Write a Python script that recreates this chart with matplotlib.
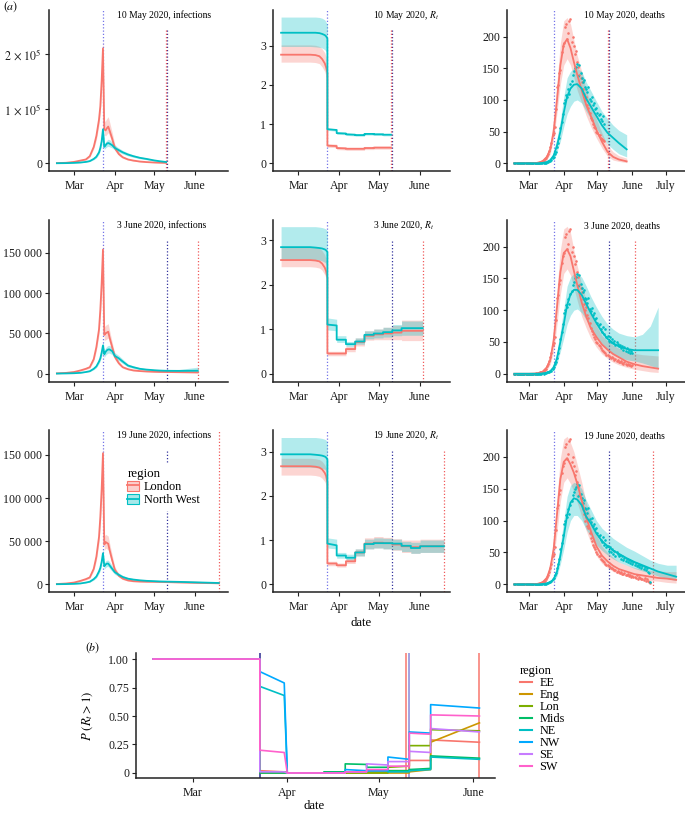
import numpy as np
import matplotlib
matplotlib.use('Agg')
import matplotlib.pyplot as plt
import matplotlib.dates as mdates
from matplotlib.patches import Patch
from matplotlib.lines import Line2D
from matplotlib.colors import to_rgba

plt.rcParams['font.family'] = ['Liberation Serif', 'DejaVu Serif']
plt.rcParams['mathtext.fontset'] = 'stix'


def D(*s):
    return np.array(['2020-' + x for x in s], dtype='datetime64[D]')


# ---------------------------------------------------------------- data
REGIONS = ['London', 'North West']
ROW_DATES = ['10 May 2020', '3 June 2020', '19 June 2020']
ANALYSIS_DATES = D('05-10', '06-03', '06-19')
LOCKDOWN = D('03-23')[0]
SECOND_LINE = D('05-11')[0]

# infections (knots)
INF_DATES = D('02-17', '02-24', '03-01', '03-06', '03-10', '03-13', '03-16', '03-18', '03-20', '03-21',
              '03-22', '03-23', '03-24', '03-25', '03-26', '03-27', '03-28', '03-30', '04-01', '04-04',
              '04-07', '04-11', '04-15', '04-20', '04-25', '05-01', '05-05', '05-10', '05-20', '06-03', '06-19')

INF1_LON = [300, 900, 2500, 5000, 7000, 13000, 30000, 50000, 80000, 104000, 150000, 210000, 62000, 60000, 64000, 67000, 60000, 45000, 28000, 17000, 11000, 7000, 5000, 3200, 2200, 1400, 1000, 700]
INF1_LON_LO = [250, 750, 2100, 4200, 5900, 11000, 26000, 43000, 70000, 92000, 133000, 192000, 52000, 50000, 53000, 56000, 50000, 37000, 23000, 14000, 9000, 5700, 4000, 2500, 1700, 1100, 750, 500]
INF1_LON_HI = [360, 1100, 3000, 6000, 8300, 15500, 35000, 58000, 92000, 118000, 168000, 225000, 76000, 78000, 82000, 85000, 76000, 56000, 35000, 21000, 13500, 8600, 6200, 4000, 2800, 1800, 1300, 950]
INF1_NW = [100, 300, 700, 1400, 2500, 4000, 8000, 12000, 20000, 28000, 40000, 62000, 30000, 33000, 36000, 37000, 36000, 33000, 28000, 24000, 20000, 16000, 13000, 10000, 8000, 5200, 3800, 2300]
INF1_NW_LO = [80, 240, 560, 1100, 2000, 3200, 6500, 9800, 16500, 23500, 34000, 55000, 25000, 28000, 30000, 31000, 30000, 28000, 24000, 20500, 17000, 13500, 11000, 8300, 6500, 4200, 3000, 1800]
INF1_NW_HI = [125, 370, 860, 1700, 3100, 4900, 9800, 14500, 24000, 33000, 46000, 69000, 36000, 39000, 42000, 44000, 43000, 39000, 33000, 28000, 23500, 19000, 15500, 12000, 9800, 6500, 4800, 3000]

INF2_LON = [300, 900, 2000, 4000, 6000, 8000, 18000, 33000, 55000, 79000, 112000, 154000, 48000, 50000, 51000, 52000, 45000, 33000, 21000, 13000, 8000, 5500, 4000, 3200, 2700, 2300, 2100, 2000, 1800, 1500]
INF2_LON_LO = [250, 750, 1700, 3400, 5100, 6800, 15500, 28500, 48000, 69000, 99000, 140000, 41000, 42000, 43000, 44000, 38000, 28000, 17500, 10800, 6600, 4500, 3300, 2600, 2200, 1800, 1600, 1500, 1200, 800]
INF2_LON_HI = [360, 1100, 2400, 4700, 7000, 9400, 21000, 38000, 62000, 89000, 125000, 162000, 58000, 60000, 61000, 62000, 54000, 39000, 25000, 15500, 9600, 6600, 4900, 3900, 3300, 2900, 2700, 2600, 2500, 2500]
INF2_NW = [100, 250, 500, 1000, 2000, 3000, 6000, 9000, 15000, 19000, 26000, 35000, 24000, 27000, 29000, 30000, 30000, 28000, 22000, 19000, 15000, 10000, 8000, 6000, 5000, 4200, 3800, 3500, 3400, 3600]
INF2_NW_LO = [80, 200, 400, 800, 1600, 2400, 4900, 7400, 12500, 16000, 22000, 30000, 20000, 23000, 24500, 25500, 25500, 23500, 18500, 16000, 12500, 8300, 6600, 4900, 4000, 3300, 2900, 2500, 2200, 1200]
INF2_NW_HI = [125, 310, 620, 1250, 2500, 3700, 7300, 10900, 18000, 22500, 30500, 40000, 28500, 32000, 34000, 35000, 35000, 33000, 26000, 22500, 18000, 12000, 9700, 7300, 6100, 5200, 4800, 4700, 5200, 8000]

INF3_LON = [300, 900, 2000, 4000, 6000, 8000, 18000, 32000, 55000, 78000, 110000, 152000, 46000, 49000, 48000, 47000, 40000, 28000, 17000, 10000, 6600, 4500, 3600, 3200, 3000, 2900, 2800, 2600, 2200, 1700, 1200]
INF3_LON_LO = [250, 750, 1700, 3400, 5100, 6800, 15500, 27500, 48000, 68000, 97000, 138000, 39000, 42000, 41000, 40000, 34000, 23500, 14000, 8300, 5400, 3700, 2900, 2600, 2400, 2300, 2200, 2000, 1600, 1100, 600]
INF3_LON_HI = [360, 1100, 2400, 4700, 7000, 9400, 21000, 37000, 62000, 88000, 123000, 160000, 56000, 58000, 57000, 56000, 48000, 34000, 20500, 12000, 8000, 5500, 4400, 3900, 3700, 3600, 3500, 3300, 2900, 2500, 2000]
INF3_NW = [100, 250, 500, 1000, 2000, 3000, 6000, 9000, 15000, 19000, 26000, 36000, 21000, 23000, 24000, 24000, 22000, 18000, 14000, 11000, 8500, 6500, 5500, 4600, 4000, 3600, 3300, 3100, 2800, 2200, 1500]
INF3_NW_LO = [80, 200, 400, 800, 1600, 2400, 4900, 7400, 12500, 16000, 22000, 31000, 17500, 19500, 20500, 20500, 18500, 15000, 11500, 9000, 7000, 5300, 4500, 3700, 3200, 2900, 2600, 2400, 2100, 1600, 900]
INF3_NW_HI = [125, 310, 620, 1250, 2500, 3700, 7300, 10900, 18000, 22500, 30500, 41000, 25000, 27000, 28000, 28000, 26000, 21500, 16800, 13200, 10200, 7800, 6600, 5500, 4800, 4400, 4000, 3800, 3500, 2900, 2200]

# R_t (knots, repeated dates mark steps)
RT1_DATES = D('02-17', '03-10', '03-14', '03-17', '03-19', '03-21', '03-22', '03-23', '03-23', '03-30', '03-30',
              '04-06', '04-06', '04-13', '04-13', '04-20', '04-20', '04-27', '04-27', '05-04', '05-04', '05-10')
RT1_LON = [2.77, 2.77, 2.76, 2.73, 2.66, 2.55, 2.45, 2.3, 0.45, 0.44, 0.39, 0.38, 0.37, 0.37, 0.37, 0.37, 0.39, 0.39, 0.40, 0.40, 0.40, 0.40]
RT1_LON_LO = [2.58, 2.58, 2.57, 2.54, 2.46, 2.34, 2.22, 2.05, 0.41, 0.40, 0.35, 0.34, 0.33, 0.33, 0.33, 0.33, 0.35, 0.35, 0.36, 0.36, 0.36, 0.36]
RT1_LON_HI = [3.02, 3.02, 3.01, 2.98, 2.92, 2.82, 2.72, 2.6, 0.50, 0.49, 0.43, 0.42, 0.41, 0.41, 0.41, 0.41, 0.43, 0.43, 0.44, 0.44, 0.44, 0.44]
RT1_NW = [3.33, 3.33, 3.33, 3.32, 3.30, 3.27, 3.24, 3.18, 0.87, 0.85, 0.77, 0.76, 0.74, 0.73, 0.72, 0.72, 0.75, 0.75, 0.74, 0.74, 0.73, 0.73]
RT1_NW_LO = [2.98, 2.98, 2.97, 2.96, 2.94, 2.9, 2.85, 2.75, 0.84, 0.82, 0.74, 0.73, 0.71, 0.70, 0.69, 0.69, 0.72, 0.72, 0.71, 0.71, 0.70, 0.70]
RT1_NW_HI = [3.73, 3.73, 3.73, 3.72, 3.70, 3.66, 3.6, 3.55, 0.90, 0.88, 0.80, 0.79, 0.77, 0.76, 0.75, 0.75, 0.78, 0.78, 0.77, 0.77, 0.76, 0.76]

RT2_DATES = D('02-17', '03-10', '03-14', '03-17', '03-19', '03-21', '03-22', '03-23', '03-23', '03-30', '03-30',
              '04-06', '04-06', '04-13', '04-13', '04-20', '04-20', '04-27', '04-27', '05-04', '05-04',
              '05-11', '05-11', '05-18', '05-18', '06-03')
RT2_LON = [2.55, 2.55, 2.54, 2.52, 2.47, 2.38, 2.3, 2.15, 0.45, 0.45, 0.45, 0.45, 0.55, 0.55, 0.71, 0.71, 0.85, 0.85, 0.88, 0.88, 0.90, 0.90, 0.92, 0.92, 0.96, 0.96]
RT2_LON_LO = [2.40, 2.40, 2.39, 2.37, 2.32, 2.22, 2.14, 2.0, 0.40, 0.40, 0.40, 0.40, 0.49, 0.49, 0.62, 0.62, 0.75, 0.75, 0.76, 0.76, 0.76, 0.76, 0.76, 0.76, 0.74, 0.74]
RT2_LON_HI = [2.85, 2.85, 2.84, 2.82, 2.76, 2.67, 2.58, 2.4, 0.50, 0.50, 0.50, 0.50, 0.61, 0.61, 0.80, 0.80, 0.96, 0.96, 1.0, 1.0, 1.04, 1.04, 1.08, 1.08, 1.2, 1.2]
RT2_NW = [2.84, 2.84, 2.83, 2.82, 2.81, 2.79, 2.77, 2.73, 1.10, 1.08, 0.76, 0.76, 0.66, 0.66, 0.72, 0.72, 0.87, 0.87, 0.90, 0.90, 0.93, 0.93, 0.97, 0.97, 1.02, 1.02]
RT2_NW_LO = [2.57, 2.57, 2.56, 2.55, 2.53, 2.5, 2.47, 2.4, 0.98, 0.96, 0.70, 0.70, 0.61, 0.61, 0.66, 0.66, 0.78, 0.78, 0.80, 0.80, 0.82, 0.82, 0.85, 0.85, 0.86, 0.86]
RT2_NW_HI = [3.30, 3.30, 3.30, 3.29, 3.28, 3.26, 3.24, 3.2, 1.25, 1.22, 0.85, 0.85, 0.72, 0.72, 0.80, 0.80, 0.96, 0.96, 1.0, 1.0, 1.04, 1.04, 1.1, 1.1, 1.18, 1.18]

RT3_DATES = D('02-17', '03-10', '03-14', '03-17', '03-19', '03-21', '03-22', '03-23', '03-23', '03-30', '03-30',
              '04-06', '04-06', '04-13', '04-13', '04-20', '04-20', '04-27', '04-27', '05-04', '05-04',
              '05-11', '05-11', '05-18', '05-18', '05-25', '05-25', '06-01', '06-01', '06-19')
RT3_LON = [2.67, 2.67, 2.66, 2.64, 2.6, 2.52, 2.45, 2.3, 0.47, 0.47, 0.43, 0.43, 0.52, 0.52, 0.72, 0.72, 0.92, 0.92, 0.94, 0.94, 0.93, 0.93, 0.90, 0.90, 0.86, 0.86, 0.84, 0.84, 0.86, 0.86]
RT3_LON_LO = [2.47, 2.47, 2.46, 2.44, 2.4, 2.32, 2.25, 2.1, 0.42, 0.42, 0.39, 0.39, 0.47, 0.47, 0.64, 0.64, 0.80, 0.80, 0.82, 0.82, 0.80, 0.80, 0.77, 0.77, 0.72, 0.72, 0.70, 0.70, 0.72, 0.72]
RT3_LON_HI = [2.85, 2.85, 2.84, 2.82, 2.78, 2.7, 2.64, 2.5, 0.52, 0.52, 0.48, 0.48, 0.58, 0.58, 0.80, 0.80, 1.05, 1.05, 1.08, 1.08, 1.06, 1.06, 1.03, 1.03, 1.0, 1.0, 1.0, 1.0, 1.02, 1.02]
RT3_NW = [2.94, 2.94, 2.93, 2.92, 2.91, 2.89, 2.87, 2.82, 0.92, 0.88, 0.65, 0.65, 0.60, 0.60, 0.72, 0.72, 0.91, 0.91, 0.93, 0.93, 0.93, 0.93, 0.92, 0.92, 0.87, 0.87, 0.82, 0.82, 0.86, 0.86]
RT3_NW_LO = [2.65, 2.65, 2.64, 2.63, 2.62, 2.6, 2.57, 2.5, 0.82, 0.80, 0.59, 0.59, 0.55, 0.55, 0.64, 0.64, 0.80, 0.80, 0.82, 0.82, 0.80, 0.80, 0.78, 0.78, 0.74, 0.74, 0.70, 0.70, 0.72, 0.72]
RT3_NW_HI = [3.32, 3.32, 3.32, 3.31, 3.30, 3.28, 3.26, 3.2, 1.05, 1.02, 0.72, 0.72, 0.68, 0.68, 0.80, 0.80, 1.02, 1.02, 1.05, 1.05, 1.04, 1.04, 1.02, 1.02, 0.97, 0.97, 0.95, 0.95, 1.0, 1.0]

# deaths, fitted (knots)
DTH_DATES = D('02-17', '03-01', '03-08', '03-13', '03-17', '03-20', '03-23', '03-26', '03-29', '04-01',
              '04-04', '04-07', '04-10', '04-13', '04-17', '04-21', '04-25', '04-30', '05-05', '05-10',
              '05-15', '05-20', '05-27', '06-03', '06-10', '06-17', '06-24', '07-02', '07-10')
DTH1_LON = [0, 0, 0.5, 3, 10, 22, 50, 100, 155, 188, 196, 182, 160, 140, 115, 92, 75, 53, 34, 18, 10, 6, 3]
DTH1_LON_LO = [0, 0, 0, 1.5, 6, 15, 38, 80, 125, 155, 165, 155, 135, 115, 95, 75, 58, 40, 24, 11, 5, 3, 1]
DTH1_LON_HI = [0.5, 0.5, 1, 5, 15, 32, 70, 130, 190, 225, 230, 220, 195, 170, 145, 115, 95, 70, 48, 28, 18, 12, 8]
DTH1_NW = [0, 0, 0, 0.5, 2, 5, 12, 28, 50, 80, 105, 118, 124, 125, 118, 102, 90, 75, 60, 48, 40, 32, 22]
DTH1_NW_LO = [0, 0, 0, 0, 1, 3, 8, 18, 35, 58, 78, 90, 98, 100, 95, 82, 70, 55, 42, 30, 22, 15, 10]
DTH1_NW_HI = [0, 0, 0.5, 1, 3, 8, 18, 40, 68, 105, 135, 145, 150, 150, 145, 128, 115, 98, 82, 70, 60, 52, 45]

DTH2_LON = [0, 0, 0.5, 3, 10, 22, 52, 105, 160, 190, 196, 185, 162, 140, 112, 90, 72, 58, 46, 38, 31, 26, 19, 15, 12, 10, 8]
DTH2_LON_LO = [0, 0, 0, 1.5, 6, 15, 35, 78, 125, 158, 165, 155, 135, 115, 90, 72, 56, 42, 31, 24, 18, 14, 10, 7, 5, 3, 2]
DTH2_LON_HI = [0.5, 0.5, 1, 5, 15, 32, 70, 135, 195, 228, 232, 222, 195, 170, 140, 115, 95, 76, 60, 52, 45, 40, 36, 32, 30, 29, 28]
DTH2_NW = [0, 0, 0, 0.5, 1.5, 4, 10, 24, 50, 78, 108, 125, 132, 132, 124, 110, 96, 80, 66, 55, 48, 43, 39, 37, 37, 37, 37]
DTH2_NW_LO = [0, 0, 0, 0, 1, 2, 6, 16, 35, 56, 78, 92, 100, 102, 96, 85, 72, 58, 46, 36, 30, 26, 22, 20, 17, 13, 9]
DTH2_NW_HI = [0, 0, 0.5, 1, 3, 7, 16, 36, 68, 102, 138, 152, 158, 158, 152, 138, 122, 105, 90, 78, 70, 64, 60, 58, 62, 75, 105]

DTH3_LON = [0, 0, 0.5, 3, 10, 25, 55, 110, 165, 192, 198, 188, 175, 158, 132, 105, 84, 60, 45, 36, 29, 24, 20, 16, 14, 12, 10, 9, 7]
DTH3_LON_LO = [0, 0, 0, 1.5, 6, 17, 38, 82, 130, 160, 167, 158, 145, 128, 106, 84, 65, 45, 33, 26, 20, 16, 13, 10, 8, 6, 5, 3, 2]
DTH3_LON_HI = [0.5, 0.5, 1, 5, 16, 35, 72, 138, 198, 228, 232, 222, 208, 188, 160, 128, 105, 78, 60, 50, 42, 35, 30, 26, 24, 22, 21, 20, 20]
DTH3_NW = [0, 0, 0, 0.5, 1.5, 3, 8, 20, 45, 75, 108, 128, 135, 133, 124, 106, 96, 80, 68, 60, 53, 48, 41, 35, 30, 25, 20, 16, 12]
DTH3_NW_LO = [0, 0, 0, 0, 1, 2, 5, 13, 32, 55, 82, 100, 108, 108, 100, 86, 75, 62, 53, 46, 40, 35, 30, 25, 21, 17, 13, 9, 6]
DTH3_NW_HI = [0, 0, 0.5, 1, 3, 6, 13, 30, 62, 100, 138, 155, 160, 158, 150, 132, 118, 100, 88, 80, 72, 66, 58, 52, 45, 38, 33, 30, 30]

# deaths, observed daily from 17 Feb
OBS_START = '2020-02-17'
OBS_LON = ([0] * 13 +
           [0, 0, 0, 0, 0, 0, 1, 0, 1, 1, 2, 2, 3, 4, 6, 8, 12, 15, 20, 26, 32, 45, 48, 58, 85, 120, 124, 142, 148, 175, 185] +
           [190, 215, 220, 196, 205, 225, 228, 192, 200, 185, 172, 178, 160, 152, 140, 135, 128, 118, 110, 100, 105, 92, 88, 80, 72, 68, 62, 58, 55, 50] +
           [48, 45, 44, 40, 38, 36, 35, 32, 30, 30, 28, 27, 25, 26, 24, 22, 23, 20, 21, 19, 18, 20, 17, 16, 18, 15, 14, 16, 13, 14, 12] +
           [13, 11, 12, 10, 14, 9, 11, 10, 8, 9, 7, 10, 6, 8, 5, 4, 2])
OBS_NW = ([0] * 13 +
          [0, 0, 0, 0, 0, 0, 0, 0, 0, 0, 0, 0, 1, 0, 1, 1, 2, 2, 3, 4, 5, 8, 10, 15, 18, 25, 32, 40, 55, 65, 78] +
          [95, 100, 108, 105, 118, 110, 125, 130, 140, 145, 150, 152, 157, 138, 155, 142, 135, 128, 132, 120, 118, 112, 120, 102, 98, 104, 92, 95, 86, 88] +
          [80, 76, 78, 70, 66, 74, 62, 70, 58, 60, 52, 58, 50, 55, 48, 52, 45, 50, 47, 44, 46, 40, 44, 38, 42, 36, 40, 35, 38, 33, 36] +
          [32, 35, 30, 33, 28, 31, 27, 30, 25, 28, 24, 27, 22, 25, 20, 18, 4])
OBS_END = D('05-07', '06-01', '06-17')

# panel (b): P(R_t > 1)
B_DATES = D('02-17', '03-23', '03-23', '03-31', '04-01', '04-13', '04-13', '04-20', '04-20', '04-27', '04-27',
            '05-04', '05-04', '05-11', '05-11', '05-18', '05-18', '06-03')
B_REGIONS = ['EE', 'Eng', 'Lon', 'Mids', 'NE', 'NW', 'SE', 'SW']
B_EE = [1, 1, 0.02, 0.01, 0, 0, 0, 0, 0.01, 0.01, 0.01, 0.01, 0.02, 0.02, 0.11, 0.11, 0.29, 0.27]
B_ENG = [1, 1, 0.0, 0.0, 0, 0, 0, 0, 0, 0, 0, 0, 0, 0, 0.01, 0.03, 0.27, 0.44]
B_LON = [1, 1, 0.01, 0.01, 0, 0, 0, 0, 0, 0, 0, 0, 0.05, 0.06, 0.24, 0.24, 0.38, 0.37]
B_MIDS = [1, 1, 0.0, 0.0, 0, 0, 0.01, 0.01, 0.08, 0.075, 0.05, 0.05, 0.02, 0.02, 0.03, 0.04, 0.15, 0.13]
B_NE = [1, 1, 0.76, 0.68, 0, 0, 0, 0, 0.01, 0.01, 0.02, 0.02, 0.01, 0.01, 0.02, 0.03, 0.14, 0.12]
B_NW = [1, 1, 0.89, 0.79, 0, 0, 0, 0, 0.03, 0.02, 0.02, 0.02, 0.14, 0.12, 0.36, 0.35, 0.60, 0.57]
B_SE = [1, 1, 0.01, 0.01, 0, 0, 0, 0, 0.01, 0.01, 0.08, 0.07, 0.10, 0.10, 0.19, 0.18, 0.39, 0.36]
B_SW = [1, 1, 0.20, 0.18, 0, 0, 0, 0, 0.01, 0.01, 0.03, 0.03, 0.06, 0.06, 0.35, 0.34, 0.51, 0.50]
B_VLINES = D('03-23', '05-10', '05-11', '06-03')

MONTH_TICKS = D('03-01', '04-01', '05-01', '06-01', '07-01')
MONTH_LABELS = ['Mar', 'Apr', 'May', 'June', 'July']

# ---------------------------------------------------------------- style
C_LON = '#F8766D'
C_NW = '#00BFC4'
B_COLORS = ['#F8766D', '#CD9600', '#7CAE00', '#00BE67', '#00BFC4', '#00A9FF', '#C77CFF', '#FF61CC']
C_LOCK = '#7474E8'
C_SECOND = '#34349E'
C_DATE = '#F05A5A'
SPINE = '#222222'
TICKFS = 8.6
TITLEFS = 6.9

W, H = 685, 814
fig = plt.figure(figsize=(W / 100, H / 100), dpi=100)


def add_ax(l, t, r, b):
    return fig.add_axes([l / W, 1 - b / H, (r - l) / W, (b - t) / H])


def dn(s, frac=0.0):
    return mdates.date2num(np.datetime64('2020-' + s)) + frac


COLS = [(49, 228), (273, 450), (507, 685)]
ROWS = [(10, 171), (220, 382), (430, 592)]
XLIMS = [(dn('02-11'), dn('06-26')), (dn('02-10', 0.9), dn('06-23', 0.6)), (dn('02-10', 0.5), dn('07-17', 0.9))]
YLIMS = [[(-14100, 280000), (-0.196, 3.91), (-12.2, 242)],
         [(-10400, 190700), (-0.19, 3.45), (-13, 242)],
         [(-8950, 179000), (-0.175, 3.49), (-12, 242)]]
TITLE_X = [0.38, 0.567, 0.43]


def style_ax(ax, nmonths):
    for s in ['top', 'right']:
        ax.spines[s].set_visible(False)
    for s in ['left', 'bottom']:
        ax.spines[s].set_color(SPINE)
        ax.spines[s].set_linewidth(1.1)
    ax.tick_params(axis='both', direction='out', length=3, width=0.8, color=SPINE,
                   labelsize=TICKFS, labelcolor='#1a1a1a')
    ax.tick_params(axis='x', pad=3.5)
    ax.tick_params(axis='y', pad=2)
    ax.set_xticks(MONTH_TICKS[:nmonths])
    ax.set_xticklabels(MONTH_LABELS[:nmonths])


def ribbon(ax, x, lo, mid, hi, col):
    ax.fill_between(x, lo, hi, color=col, alpha=0.3, lw=0)


def vlines(ax, date, red_full=False):
    ax.axvline(LOCKDOWN, color=C_LOCK, ls=(0, (1, 1.6)), lw=0.9, zorder=1)
    ax.axvline(SECOND_LINE, ymax=0.885, color=C_SECOND, ls=(0, (1, 1.6)), lw=0.9, zorder=1)
    ax.axvline(date, ymax=1.0 if red_full else 0.885, color=C_DATE, ls=(0, (1, 1.6)), lw=0.9, zorder=1)


INF = [(INF1_LON_LO, INF1_LON, INF1_LON_HI, INF1_NW_LO, INF1_NW, INF1_NW_HI),
       (INF2_LON_LO, INF2_LON, INF2_LON_HI, INF2_NW_LO, INF2_NW, INF2_NW_HI),
       (INF3_LON_LO, INF3_LON, INF3_LON_HI, INF3_NW_LO, INF3_NW, INF3_NW_HI)]
RT = [(RT1_DATES, RT1_LON_LO, RT1_LON, RT1_LON_HI, RT1_NW_LO, RT1_NW, RT1_NW_HI),
      (RT2_DATES, RT2_LON_LO, RT2_LON, RT2_LON_HI, RT2_NW_LO, RT2_NW, RT2_NW_HI),
      (RT3_DATES, RT3_LON_LO, RT3_LON, RT3_LON_HI, RT3_NW_LO, RT3_NW, RT3_NW_HI)]
DTH = [(DTH1_LON_LO, DTH1_LON, DTH1_LON_HI, DTH1_NW_LO, DTH1_NW, DTH1_NW_HI),
       (DTH2_LON_LO, DTH2_LON, DTH2_LON_HI, DTH2_NW_LO, DTH2_NW, DTH2_NW_HI),
       (DTH3_LON_LO, DTH3_LON, DTH3_LON_HI, DTH3_NW_LO, DTH3_NW, DTH3_NW_HI)]

obs_dates = np.datetime64(OBS_START) + np.arange(len(OBS_LON))
obs_lon = np.array(OBS_LON, float)
obs_nw = np.array(OBS_NW, float)

LW = 1.3
for r in range(3):
    t, b = ROWS[r]
    # infections
    ax = add_ax(COLS[0][0], t, COLS[0][1], b)
    lo1, m1, hi1, lo2, m2, hi2 = INF[r]
    x = INF_DATES[:len(m1)]
    vlines(ax, ANALYSIS_DATES[r], red_full=(r == 2))
    ribbon(ax, x, lo1, m1, hi1, C_LON)
    ribbon(ax, x, lo2, m2, hi2, C_NW)
    ax.plot(x, m1, color=C_LON, lw=LW)
    ax.plot(x, m2, color=C_NW, lw=LW)
    style_ax(ax, 4)
    ax.set_xlim(*XLIMS[0])
    ax.set_ylim(*YLIMS[r][0])
    if r == 0:
        ax.set_yticks([0, 100000, 200000])
        ax.set_yticklabels(['0', r'$1\,\times\,10^5$', r'$2\,\times\,10^5$'])
    else:
        ax.set_yticks([0, 50000, 100000, 150000])
        ax.set_yticklabels(['0', '50 000', '100 000', '150 000'])
    ax.text(TITLE_X[0], 0.965, ROW_DATES[r] + ', infections', transform=ax.transAxes,
            ha='left', va='center', fontsize=TITLEFS)
    if r == 2:
        handles = [(Patch(facecolor=to_rgba(C_LON, 0.35), edgecolor=C_LON, lw=0.8), Line2D([], [], color=C_LON, lw=1.3)),
                   (Patch(facecolor=to_rgba(C_NW, 0.35), edgecolor=C_NW, lw=0.8), Line2D([], [], color=C_NW, lw=1.3))]
        leg = ax.legend(handles, REGIONS, title='region', loc='upper left', bbox_to_anchor=(0.41, 0.795),
                        fontsize=8.8, title_fontsize=9.4, frameon=True, facecolor='white', edgecolor='none',
                        framealpha=1, handlelength=0.95, handleheight=0.95, handletextpad=0.4,
                        labelspacing=0.05, borderpad=0.4, borderaxespad=0)
        leg._legend_box.align = 'left'
        leg.set_zorder(5)

    # R_t
    ax = add_ax(COLS[1][0], t, COLS[1][1], b)
    xd, lo1, m1, hi1, lo2, m2, hi2 = RT[r]
    vlines(ax, ANALYSIS_DATES[r])
    ribbon(ax, xd, lo1, m1, hi1, C_LON)
    ribbon(ax, xd, lo2, m2, hi2, C_NW)
    ax.plot(xd, m1, color=C_LON, lw=LW)
    ax.plot(xd, m2, color=C_NW, lw=LW)
    style_ax(ax, 4)
    ax.set_xlim(*XLIMS[1])
    ax.set_ylim(*YLIMS[r][1])
    ax.set_yticks([0, 1, 2, 3])
    ax.text(TITLE_X[1], 0.965, ROW_DATES[r] + r', $R_t$', transform=ax.transAxes,
            ha='left', va='center', fontsize=TITLEFS)
    if r == 2:
        ax.set_xlabel('date', fontsize=9.2, labelpad=3)

    # deaths
    ax = add_ax(COLS[2][0], t, COLS[2][1], b)
    lo1, m1, hi1, lo2, m2, hi2 = DTH[r]
    x = DTH_DATES[:len(m1)]
    vlines(ax, ANALYSIS_DATES[r])
    ribbon(ax, x, lo1, m1, hi1, C_LON)
    ribbon(ax, x, lo2, m2, hi2, C_NW)
    mask = obs_dates <= OBS_END[r]
    ax.scatter(obs_dates[mask], obs_lon[mask], s=3.5, color=C_LON, lw=0, zorder=3)
    ax.scatter(obs_dates[mask], obs_nw[mask], s=3.5, color=C_NW, lw=0, zorder=3)
    ax.plot(x, m1, color=C_LON, lw=LW, zorder=4)
    ax.plot(x, m2, color=C_NW, lw=LW, zorder=4)
    style_ax(ax, 5)
    ax.set_xlim(*XLIMS[2])
    ax.set_ylim(*YLIMS[r][2])
    ax.set_yticks([0, 50, 100, 150, 200])
    ax.text(TITLE_X[2], 0.965, ROW_DATES[r] + ', deaths', transform=ax.transAxes,
            ha='left', va='center', fontsize=TITLEFS)

# ---------------------------------------------------------------- panel (b)
axb = add_ax(136, 653, 495, 778)
B_SERIES = [B_EE, B_ENG, B_LON, B_MIDS, B_NE, B_NW, B_SE, B_SW]
for dte, col in zip(B_VLINES, ['#2A2A90', '#F8766D', '#8A8AD8', '#F8766D']):
    axb.axvline(dte, color=col, lw=1.1, zorder=1)
for vals, col in zip(B_SERIES, B_COLORS):
    axb.plot(B_DATES, vals, color=col, lw=1.2, zorder=2)
style_ax(axb, 4)
axb.set_xlim(dn('02-11', 0.4), dn('06-08', 0.1))
axb.set_ylim(-0.044, 1.053)
axb.set_yticks([0, 0.25, 0.5, 0.75, 1.0])
axb.set_yticklabels(['0', '0.25', '0.50', '0.75', '1.00'])
bh = [Line2D([], [], color=c, lw=1.5) for c in B_COLORS]
lb = fig.legend(bh, B_REGIONS, title='region', loc='upper left', bbox_to_anchor=(0.752, 0.189),
                fontsize=8.8, title_fontsize=9.0, frameon=False, handlelength=1.0, handletextpad=0.6,
                labelspacing=0.0, borderaxespad=0)
lb._legend_box.align = 'left'

fig.text(88 / W, 1 - 716 / H, r'$P\ (R_t > 1)$', rotation=90, ha='center', va='center', fontsize=9.2)
fig.text(314 / W, 1 - 806 / H, 'date', ha='center', va='center', fontsize=9.2)
fig.text(3 / W, 1 - 7 / H, r'$(a)$', ha='left', va='center', fontsize=8.6)
fig.text(85 / W, 1 - 648 / H, r'$(b)$', ha='left', va='center', fontsize=8.6)

fig.savefig('out.png', dpi=100)
